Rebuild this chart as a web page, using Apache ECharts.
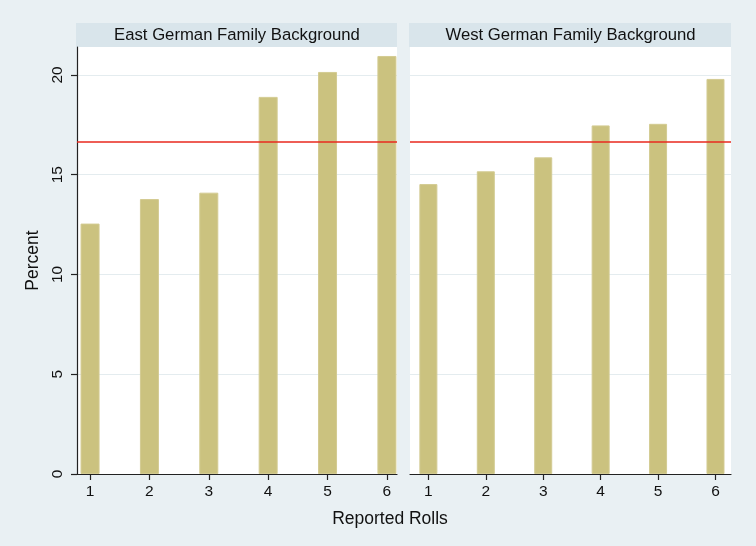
<!DOCTYPE html>
<html>
<head>
<meta charset="utf-8">
<script src="https://cdn.jsdelivr.net/npm/echarts@6/dist/echarts.min.js"></script>
<style>
  html, body { margin: 0; padding: 0; background: #e9f0f3; }
  #chart { width: 756px; height: 546px; }
</style>
</head>
<body>
<div id="chart"></div>
<script>
// Reported die rolls (1-6), share of reports in percent, by family background
const rolls = [1, 2, 3, 4, 5, 6];
const eastPercent = [12.55, 13.78, 14.1, 18.9, 20.15, 20.95];
const westPercent = [14.53, 15.17, 15.87, 17.47, 17.55, 19.8];
const panelTitles = ['East German Family Background', 'West German Family Background'];
const yTicks = [0, 5, 10, 15, 20];
const expectedShare = 16.67; // honest reporting: 1/6 of all rolls

const FONT = 'Liberation Sans, Arial, Helvetica, sans-serif';
const BAR = '#cbc27f';

const chart = echarts.init(document.getElementById('chart'), null, { renderer: 'canvas' });

const gridTop = 47, gridBottom = 72;
const panels = [
  { left: 77, right: 756 - 397, xmin: 0.78, xmax: 6.17, data: eastPercent, barWidth: 19 },
  { left: 410, right: 756 - 731, xmin: 0.68, xmax: 6.27, data: westPercent, barWidth: 18 }
];

const option = {
  backgroundColor: '#e9f0f3',
  animation: false,
  textStyle: { fontFamily: FONT },
  grid: panels.map(p => ({
    left: p.left, right: p.right, top: gridTop, bottom: gridBottom,
    show: true, backgroundColor: '#ffffff', borderWidth: 0
  })),
  xAxis: panels.map((p, i) => ({
    type: 'value', gridIndex: i, min: p.xmin, max: p.xmax,
    splitLine: { show: false },
    axisLine: { show: true, onZero: false, lineStyle: { color: '#222', width: 1.2 } },
    axisTick: { show: true, customValues: rolls, length: 6, lineStyle: { color: '#222', width: 1.2 } },
    axisLabel: { customValues: rolls, color: '#111', fontSize: 15.5, fontFamily: FONT, margin: 10 }
  })),
  yAxis: panels.map((p, i) => ({
    type: 'value', gridIndex: i, min: 0, max: 21.4,
    position: 'left',
    name: i === 0 ? 'Percent' : '',
    nameLocation: 'middle', nameGap: 35,
    nameTextStyle: { fontSize: 17.5, color: '#111', fontFamily: FONT },
    axisLine: { show: i === 0, lineStyle: { color: '#222', width: 1.2 } },
    axisTick: { show: i === 0, customValues: yTicks, length: 6, lineStyle: { color: '#222', width: 1.2 } },
    axisLabel: { show: i === 0, customValues: yTicks, rotate: 90, color: '#111', fontSize: 15.5, fontFamily: FONT, margin: 11 },
    splitLine: { show: true, lineStyle: { color: '#e4ecef', width: 1.2 } }
  })),
  series: panels.map((p, i) => ({
    type: 'bar', xAxisIndex: i, yAxisIndex: i,
    data: rolls.map((r, k) => [r, p.data[k]]),
    barWidth: p.barWidth,
    itemStyle: { color: BAR, borderColor: '#d3cb92', borderWidth: 1 },
    markLine: {
      silent: true, symbol: 'none', label: { show: false },
      lineStyle: { color: '#e8281e', width: 1.5, type: 'solid' },
      data: [{ yAxis: expectedShare }]
    }
  })),
  graphic: [
    ...panels.map((p, i) => ({
      type: 'rect',
      shape: { x: p.left - 1, y: 23, width: 756 - p.right - p.left + 1, height: 24 },
      style: { fill: '#d9e5eb' }
    })),
    ...panels.map((p, i) => ({
      type: 'text',
      x: (p.left + 756 - p.right) / 2, y: 35.5,
      style: {
        text: panelTitles[i], fill: '#111', font: '16.7px ' + FONT,
        textAlign: 'center', textVerticalAlign: 'middle'
      }
    })),
    {
      type: 'text', x: 390, y: 519,
      style: {
        text: 'Reported Rolls', fill: '#111', font: '17.5px ' + FONT,
        textAlign: 'center', textVerticalAlign: 'middle'
      }
    }
  ]
};

chart.setOption(option);
</script>
</body>
</html>
